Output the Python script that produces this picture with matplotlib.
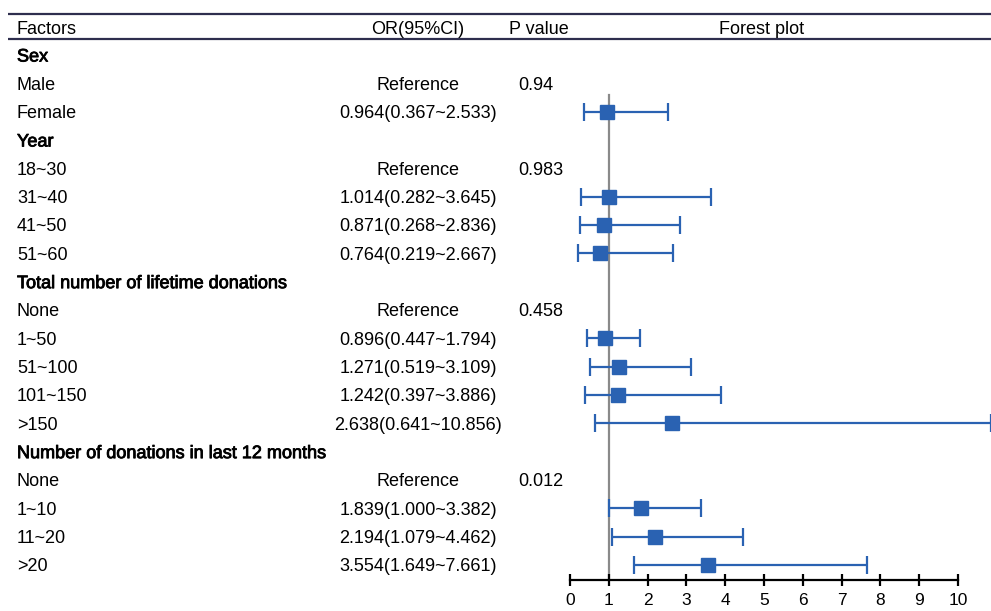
import numpy as np
import matplotlib
matplotlib.use("Agg")
import matplotlib.pyplot as plt
import matplotlib.transforms as mtransforms
import matplotlib.patheffects as pe

plt.rcParams['font.family'] = ['Liberation Sans', 'DejaVu Sans']

factors = ["Sex", "Male", "Female", "Year", "18~30", "31~40", "41~50", "51~60",
           "Total number of lifetime donations", "None", "1~50", "51~100", "101~150", ">150",
           "Number of donations in last 12 months", "None", "1~10", "11~20", ">20"]
is_group = [True, False, False, True, False, False, False, False,
            True, False, False, False, False, False,
            True, False, False, False, False]
or_text = ["", "Reference", "0.964(0.367~2.533)", "", "Reference", "1.014(0.282~3.645)",
           "0.871(0.268~2.836)", "0.764(0.219~2.667)", "", "Reference", "0.896(0.447~1.794)",
           "1.271(0.519~3.109)", "1.242(0.397~3.886)", "2.638(0.641~10.856)", "", "Reference",
           "1.839(1.000~3.382)", "2.194(1.079~4.462)", "3.554(1.649~7.661)"]
p_text = ["", "0.94", "", "", "0.983", "", "", "", "", "0.458", "", "", "", "", "", "0.012", "", "", ""]
or_val = [np.nan, np.nan, 0.964, np.nan, np.nan, 1.014, 0.871, 0.764, np.nan, np.nan, 0.896,
          1.271, 1.242, 2.638, np.nan, np.nan, 1.839, 2.194, 3.554]
lo_val = [np.nan, np.nan, 0.367, np.nan, np.nan, 0.282, 0.268, 0.219, np.nan, np.nan, 0.447,
          0.519, 0.397, 0.641, np.nan, np.nan, 1.000, 1.079, 1.649]
hi_val = [np.nan, np.nan, 2.533, np.nan, np.nan, 3.645, 2.836, 2.667, np.nan, np.nan, 1.794,
          3.109, 3.886, 10.856, np.nan, np.nan, 3.382, 4.462, 7.661]
headers = ["Factors", "OR(95%CI)", "P value", "Forest plot"]
xticks = list(range(0, 11))

W, H = 991, 611
fig = plt.figure(figsize=(W / 100, H / 100), dpi=100)

# layout in pixels
x0_px, x10_px = 570.0, 958.0
ppu = (x10_px - x0_px) / 10.0
row0_px, row_h = 55.0, 28.33
ax = fig.add_axes([0, 0, 1, 1])
ax.set_xlim(-x0_px / ppu, (W - x0_px) / ppu)
ax.set_ylim((H - row0_px) / row_h, -row0_px / row_h)
ax.set_facecolor('none')

def px2row(py):
    return (py - row0_px) / row_h

rows = np.arange(len(factors))
blend = mtransforms.blended_transform_factory(fig.transFigure, ax.transData)
fs = 13
va = 'center_baseline'
medium = [pe.withStroke(linewidth=0.6, foreground='black')]
for i in rows:
    ax.text(17 / W, i, factors[i], transform=blend, ha='left', va=va, fontsize=fs,
            color='black', path_effects=medium if is_group[i] else None)
    if or_text[i]:
        ax.text(418 / W, i, or_text[i], transform=blend, ha='center', va=va, fontsize=fs)
    if p_text[i]:
        ax.text(518 / W, i, p_text[i], transform=blend, ha='left', va=va, fontsize=fs)

hy = px2row(27)
ax.text(17 / W, hy, headers[0], transform=blend, ha='left', va=va, fontsize=fs)
ax.text(418 / W, hy, headers[1], transform=blend, ha='center', va=va, fontsize=fs)
ax.text(539 / W, hy, headers[2], transform=blend, ha='center', va=va, fontsize=fs)
ax.text(762 / W, hy, headers[3], transform=blend, ha='center', va=va, fontsize=fs)

line_col = '#2e2e4e'
for py in (13.5, 38.5):
    ax.plot([8 / W, 1.0], [px2row(py), px2row(py)], transform=blend, color=line_col,
            lw=1.6, clip_on=False, solid_capstyle='butt')

axis_row = px2row(580)
# reference line at OR = 1
ax.plot([1, 1], [px2row(95), axis_row], color='#8a8a8a', lw=1.6, zorder=1)

orv = np.array(or_val); lov = np.array(lo_val); hiv = np.array(hi_val)
m = ~np.isnan(orv)
blue = '#2a62b2'
ax.errorbar(orv[m], rows[m], xerr=[orv[m] - lov[m], hiv[m] - orv[m]], fmt='s', color=blue,
            ecolor=blue, elinewidth=1.6, capsize=6.5, capthick=1.6, markersize=9.5,
            zorder=3, clip_on=False)

# x axis
ax.spines[['top', 'right', 'left']].set_visible(False)
ax.spines['bottom'].set_position(('data', axis_row))
ax.spines['bottom'].set_bounds(0, 10)
ax.spines['bottom'].set_linewidth(1.6)
ax.set_xticks(xticks)
ax.set_xticklabels([str(t) for t in xticks], fontsize=12.5)
ax.tick_params(axis='x', direction='inout', length=8, width=1.6, pad=5)
ax.set_yticks([])

fig.savefig('out.png', dpi=100)
